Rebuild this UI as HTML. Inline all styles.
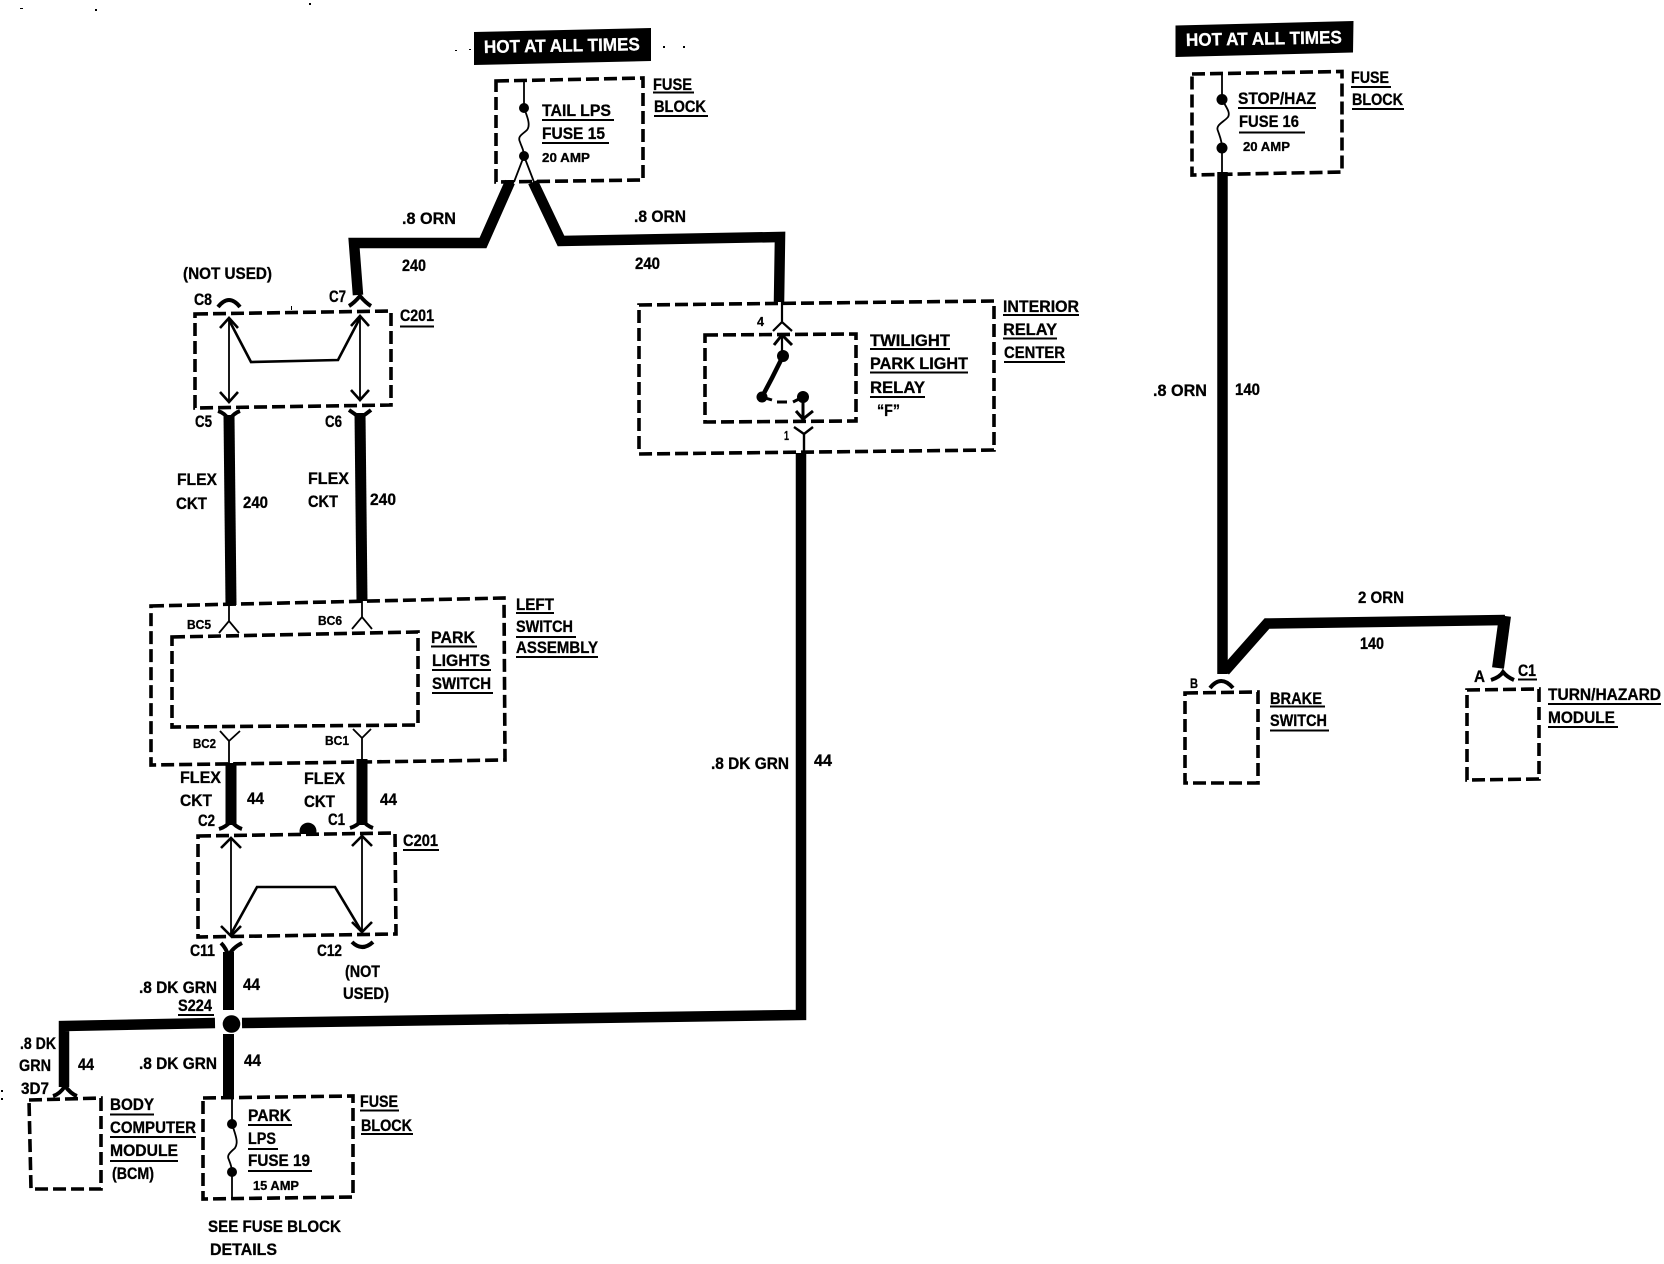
<!DOCTYPE html>
<html><head><meta charset="utf-8"><style>
html,body{margin:0;padding:0;background:#fff;width:1664px;height:1264px;overflow:hidden}
svg{display:block}
text{font-family:"Liberation Sans",sans-serif;font-weight:700;font-size:16.5px;fill:#000;stroke:#000;stroke-width:.3}
.s{font-size:13px}
.h{font-size:18px;fill:#fff;stroke:#fff}
.d{fill:none;stroke:#000;stroke-width:3.6;stroke-dasharray:13 5}
.w{fill:none;stroke:#000;stroke-width:10.5;stroke-linejoin:miter}
.t{fill:none;stroke:#000;stroke-width:1.8}
.m{fill:none;stroke:#000;stroke-width:2.6}
.a{fill:none;stroke:#000;stroke-width:4}
.u{fill:none;stroke:#000;stroke-width:2}
</style></head><body>
<svg xmlns="http://www.w3.org/2000/svg" width="1664" height="1264" viewBox="0 0 1664 1264">
<rect width="1664" height="1264" fill="#fff"/>
<!-- specks -->
<path d="M20 8h3v1h-3zM95 9h2v2h-2zM309 3h2v2h-2zM455 50h2v1h-2zM469 49h2v1h-2zM663 46h2v2h-2zM683 46h2v2h-2zM1 1090h2v2h-2zM1 1098h2v2h-2zM291 306h1v4h-1z" fill="#000"/>

<!-- HOT boxes -->
<polygon points="474,32 651,28 651,61 474,65" fill="#000"/>
<text class="h" x="484" y="53" textLength="156" lengthAdjust="spacingAndGlyphs" transform="rotate(-1 484 53)">HOT AT ALL TIMES</text>
<polygon points="1175.5,25.5 1353.5,21 1353,52.5 1175.5,57" fill="#000"/>
<text class="h" x="1186" y="46" textLength="156" lengthAdjust="spacingAndGlyphs" transform="rotate(-1 1186 46)">HOT AT ALL TIMES</text>

<!-- dashed boxes -->
<path class="d" d="M496,81 L643,78 L643,180 L496,182 Z"/>
<path class="d" d="M195,314 L391,311 L391,405 L195,408 Z"/>
<path class="d" d="M639,305 L994,301 L994,450 L639,454 Z"/>
<path class="d" d="M705,335 L856,334 L856,421 L705,422 Z"/>
<path class="d" d="M151,606 L504,598 L505,760 L151,765 Z"/>
<path class="d" d="M172,637 L418,632 L418,725 L172,727 Z"/>
<path class="d" d="M198,836 L395,833 L396,934 L198,937 Z"/>
<path class="d" d="M29,1100 L101,1098 L101,1189 L31,1189 Z"/>
<path class="d" d="M203,1098 L353,1096 L353,1197 L203,1199 Z"/>
<path class="d" d="M1192,74 L1342,71.5 L1342,172 L1192,175 Z"/>
<path class="d" d="M1185,693 L1258,692 L1258,783 L1185,783 Z"/>
<path class="d" d="M1467,690 L1539,689 L1539,779 L1467,780 Z"/>

<!-- thick wires -->
<path class="w" d="M510,182 L483,243 L354,243 L358,295"/>
<path class="w" d="M533,182 L561,241 L780,237 L779,302"/>
<path class="w" style="stroke-width:11" d="M229,415 L231,605"/>
<path class="w" style="stroke-width:11" d="M360,413 L362,601"/>
<path class="w" style="stroke-width:11" d="M231,763 L231,825"/>
<path class="w" style="stroke-width:11" d="M362,759 L362,825"/>
<path class="w" style="stroke-width:11" d="M228.5,952 L228.5,1010"/>
<path class="w" style="stroke-width:11" d="M228.5,1034 L228.5,1098"/>
<path class="w" d="M801,453 L801,1015 L242,1023"/>
<path class="w" d="M215,1023 L64,1026 L64,1087"/>
<circle cx="231.5" cy="1024" r="8.8" fill="#000"/>
<path class="w" d="M1222.5,172 L1222.5,674"/>
<path class="w" style="stroke-width:10.5" d="M1225,671 L1267,623.5 L1505,620"/>
<path class="w" style="stroke-width:12" d="M1505,616 L1498,668"/>

<!-- fuse internals -->
<path class="t" d="M524,80 V108 C527,116 531,125 527,130 C523,134 517,136 520,142 C522,148 524,150 524,156 L514,182 M524,156 L534,182"/>
<circle cx="524" cy="108" r="5"/><circle cx="524" cy="156" r="5"/>
<path class="t" d="M232,1098 V1124 C235,1134 239,1142 235,1148 C231,1152 226,1155 229,1160 C231,1165 232,1168 232,1172 V1198"/>
<circle cx="232" cy="1124" r="5"/><circle cx="232" cy="1172" r="5"/>
<path class="t" d="M1222,72 V99 C1225,106 1231,112 1228,117 C1224,122 1215,125 1218,131 C1220,137 1222,141 1222,148 V173"/>
<circle cx="1222" cy="99.5" r="5.5"/><circle cx="1222" cy="148" r="5.5"/>

<!-- C201 upper -->
<path class="t" d="M229,318 V402 M360,316 V400"/>
<path class="m" d="M220,328 L229,318 L238,328 M220,392 L229,402 L238,392 M351,326 L360,316 L369,326 M351,390 L360,400 L369,390"/>
<path class="m" d="M229,320 L251,362 L338,360 L360,318"/>
<path class="a" d="M218,307 Q229,293 240,307"/>
<path class="a" d="M349,306 Q354,303 360,296 Q366,303 371,306"/>
<path class="a" d="M218,411 Q225,413 229,420 Q234,413 240,411"/>
<path class="a" d="M349,410 Q355,414 360,418 Q366,414 371,410"/>

<!-- C201 lower -->
<path class="t" d="M231,838 V936 M362,836 V932"/>
<path class="m" d="M221,848 L231,838 L241,848 M352,846 L362,836 L372,846 M221,926 L231,936 L241,926 M352,922 L362,932 L372,922"/>
<path class="m" d="M231,934 L257,887 L335,887 L362,932"/>
<path class="a" d="M219,829 Q226,827 231,821 Q236,827 242,829"/>
<path class="a" d="M350,828 Q357,826 362,820 Q367,826 373,828"/>
<path class="a" d="M221,943 Q226,948 228.5,956 Q232,948 242,943"/>
<path class="a" d="M352,942 Q362,952 373,942"/>
<path d="M300,834 A8.5,8.5 0 1 1 316,834 Z" fill="#000"/>

<!-- left switch arrows -->
<path class="t" d="M229,605 V621 M219,633 L229,621 L239,633 M362,598 V617 M352,629 L362,617 L372,629"/>
<path class="t" d="M220,731 L229,741 L240,731 M229,741 V765 M353,729 L362,738 L371,729 M362,738 V760"/>

<!-- relay -->
<path class="t" style="stroke-width:2.2" d="M782,302 V322 M773,331 L782,322 L792,331"/>
<path class="m" style="stroke-width:3" d="M774,345 L782,335 L792,345"/>
<path class="t" style="stroke-width:2.2" d="M782,335 V356"/>
<path class="a" style="stroke-width:4.5" d="M783,356 L772,378 L762,397"/>
<circle cx="783" cy="356" r="6"/><circle cx="762" cy="397" r="5.5"/><circle cx="803" cy="397" r="6"/>
<path d="M762,397 L772,400 M777,402 H787 M793,402 L803,397" fill="none" stroke="#000" stroke-width="3"/>
<path class="m" style="stroke-width:3" d="M803,397 V418 M796,411 L803,419 L813,411"/>
<path class="t" style="stroke-width:2.4" d="M794,427 L804,434 L813,427 M804,434 V454"/>

<!-- arches at ends -->
<path class="a" d="M53,1096 Q60,1094 65,1086 Q71,1094 77,1096"/>
<path class="a" d="M1210,688 Q1221,674 1233,688"/>
<path class="a" d="M1491,680 Q1500,677 1503,672 Q1507,677 1514,680"/>

<!-- underlines -->
<path class="u" d="M542,120H614M542,143H609M653,92.5H694M654,116H708M400,326.5H434
M870,349H950M870,372.5H968M870,397H925M1003,315H1079M1003,338.5H1057M1004,362H1065
M516,613H554M516,637H576M516,657H598M431,646.5H477M432,670H491M432,693H493
M403,850H439M178,1015H214M110,1114.5H154M110,1137H196M110,1161H178
M248,1125H292M248,1149H278M248,1171H312M360,1110.5H399M361,1134H413
M1238,108H1316M1239,132.5H1305M1351,87H1391M1352,109H1404M1270,706.5H1325M1270,730.5H1329
M1518,679.5H1537M1548,704H1661M1548,727H1618"/>

<!-- labels -->
<text x="542" y="116" textLength="69" lengthAdjust="spacingAndGlyphs">TAIL LPS</text>
<text x="542" y="139" textLength="63" lengthAdjust="spacingAndGlyphs">FUSE 15</text>
<text class="s" x="542" y="162" textLength="48" lengthAdjust="spacingAndGlyphs">20 AMP</text>
<text x="653" y="90" textLength="39" lengthAdjust="spacingAndGlyphs">FUSE</text>
<text x="654" y="112" textLength="52" lengthAdjust="spacingAndGlyphs">BLOCK</text>
<text x="402" y="224" textLength="54" lengthAdjust="spacingAndGlyphs">.8 ORN</text>
<text x="402" y="271" textLength="24" lengthAdjust="spacingAndGlyphs">240</text>
<text x="634" y="222" textLength="52" lengthAdjust="spacingAndGlyphs">.8 ORN</text>
<text x="635" y="269" textLength="25" lengthAdjust="spacingAndGlyphs">240</text>
<text x="183" y="279" textLength="89" lengthAdjust="spacingAndGlyphs">(NOT USED)</text>
<text x="194" y="305" textLength="18" lengthAdjust="spacingAndGlyphs">C8</text>
<text x="329" y="302" textLength="17" lengthAdjust="spacingAndGlyphs">C7</text>
<text x="400" y="321" textLength="34" lengthAdjust="spacingAndGlyphs">C201</text>
<text x="195" y="427" textLength="17" lengthAdjust="spacingAndGlyphs">C5</text>
<text x="325" y="427" textLength="17" lengthAdjust="spacingAndGlyphs">C6</text>
<text x="177" y="485" textLength="40" lengthAdjust="spacingAndGlyphs">FLEX</text>
<text x="176" y="509" textLength="31" lengthAdjust="spacingAndGlyphs">CKT</text>
<text x="243" y="508" textLength="25" lengthAdjust="spacingAndGlyphs">240</text>
<text x="308" y="484" textLength="41" lengthAdjust="spacingAndGlyphs">FLEX</text>
<text x="308" y="507" textLength="30" lengthAdjust="spacingAndGlyphs">CKT</text>
<text x="370" y="505" textLength="26" lengthAdjust="spacingAndGlyphs">240</text>

<text class="s" x="757" y="326" textLength="7" lengthAdjust="spacingAndGlyphs">4</text>
<text class="s" x="784" y="440" textLength="5" lengthAdjust="spacingAndGlyphs">1</text>
<text x="870" y="346" textLength="80" lengthAdjust="spacingAndGlyphs">TWILIGHT</text>
<text x="870" y="369" textLength="98" lengthAdjust="spacingAndGlyphs">PARK LIGHT</text>
<text x="870" y="393" textLength="55" lengthAdjust="spacingAndGlyphs">RELAY</text>
<text x="877" y="416" textLength="23" lengthAdjust="spacingAndGlyphs">“F”</text>
<text x="1003" y="312" textLength="76" lengthAdjust="spacingAndGlyphs">INTERIOR</text>
<text x="1003" y="335" textLength="54" lengthAdjust="spacingAndGlyphs">RELAY</text>
<text x="1004" y="358" textLength="61" lengthAdjust="spacingAndGlyphs">CENTER</text>

<text x="516" y="610" textLength="38" lengthAdjust="spacingAndGlyphs">LEFT</text>
<text x="516" y="632" textLength="57" lengthAdjust="spacingAndGlyphs">SWITCH</text>
<text x="516" y="653" textLength="82" lengthAdjust="spacingAndGlyphs">ASSEMBLY</text>
<text x="431" y="643" textLength="44" lengthAdjust="spacingAndGlyphs">PARK</text>
<text x="432" y="666" textLength="58" lengthAdjust="spacingAndGlyphs">LIGHTS</text>
<text x="432" y="689" textLength="59" lengthAdjust="spacingAndGlyphs">SWITCH</text>
<text class="s" x="187" y="629" textLength="24" lengthAdjust="spacingAndGlyphs">BC5</text>
<text class="s" x="318" y="625" textLength="24" lengthAdjust="spacingAndGlyphs">BC6</text>
<text class="s" x="193" y="748" textLength="23" lengthAdjust="spacingAndGlyphs">BC2</text>
<text class="s" x="325" y="745" textLength="24" lengthAdjust="spacingAndGlyphs">BC1</text>

<text x="180" y="783" textLength="41" lengthAdjust="spacingAndGlyphs">FLEX</text>
<text x="180" y="806" textLength="32" lengthAdjust="spacingAndGlyphs">CKT</text>
<text x="247" y="804" textLength="17" lengthAdjust="spacingAndGlyphs">44</text>
<text x="304" y="784" textLength="41" lengthAdjust="spacingAndGlyphs">FLEX</text>
<text x="304" y="807" textLength="31" lengthAdjust="spacingAndGlyphs">CKT</text>
<text x="380" y="805" textLength="17" lengthAdjust="spacingAndGlyphs">44</text>
<text x="198" y="826" textLength="17" lengthAdjust="spacingAndGlyphs">C2</text>
<text x="328" y="825" textLength="17" lengthAdjust="spacingAndGlyphs">C1</text>
<text x="403" y="846" textLength="35" lengthAdjust="spacingAndGlyphs">C201</text>
<text x="190" y="956" textLength="25" lengthAdjust="spacingAndGlyphs">C11</text>
<text x="317" y="956" textLength="25" lengthAdjust="spacingAndGlyphs">C12</text>
<text x="345" y="977" textLength="35" lengthAdjust="spacingAndGlyphs">(NOT</text>
<text x="343" y="999" textLength="46" lengthAdjust="spacingAndGlyphs">USED)</text>
<text x="139" y="993" textLength="78" lengthAdjust="spacingAndGlyphs">.8 DK GRN</text>
<text x="243" y="990" textLength="17" lengthAdjust="spacingAndGlyphs">44</text>
<text x="178" y="1011" textLength="34" lengthAdjust="spacingAndGlyphs">S224</text>
<text x="711" y="769" textLength="78" lengthAdjust="spacingAndGlyphs">.8 DK GRN</text>
<text x="814" y="766" textLength="18" lengthAdjust="spacingAndGlyphs">44</text>
<text x="20" y="1049" textLength="36" lengthAdjust="spacingAndGlyphs">.8 DK</text>
<text x="19" y="1071" textLength="32" lengthAdjust="spacingAndGlyphs">GRN</text>
<text x="78" y="1070" textLength="16" lengthAdjust="spacingAndGlyphs">44</text>
<text x="21" y="1094" textLength="28" lengthAdjust="spacingAndGlyphs">3D7</text>
<text x="139" y="1069" textLength="78" lengthAdjust="spacingAndGlyphs">.8 DK GRN</text>
<text x="244" y="1066" textLength="17" lengthAdjust="spacingAndGlyphs">44</text>
<text x="110" y="1110" textLength="44" lengthAdjust="spacingAndGlyphs">BODY</text>
<text x="110" y="1133" textLength="86" lengthAdjust="spacingAndGlyphs">COMPUTER</text>
<text x="110" y="1156" textLength="68" lengthAdjust="spacingAndGlyphs">MODULE</text>
<text x="112" y="1179" textLength="42" lengthAdjust="spacingAndGlyphs">(BCM)</text>
<text x="248" y="1121" textLength="43" lengthAdjust="spacingAndGlyphs">PARK</text>
<text x="248" y="1144" textLength="28" lengthAdjust="spacingAndGlyphs">LPS</text>
<text x="248" y="1166" textLength="62" lengthAdjust="spacingAndGlyphs">FUSE 19</text>
<text class="s" x="253" y="1190" textLength="46" lengthAdjust="spacingAndGlyphs">15 AMP</text>
<text x="360" y="1107" textLength="38" lengthAdjust="spacingAndGlyphs">FUSE</text>
<text x="361" y="1131" textLength="51" lengthAdjust="spacingAndGlyphs">BLOCK</text>
<text x="208" y="1232" textLength="133" lengthAdjust="spacingAndGlyphs">SEE FUSE BLOCK</text>
<text x="210" y="1255" textLength="67" lengthAdjust="spacingAndGlyphs">DETAILS</text>

<text x="1238" y="104" textLength="78" lengthAdjust="spacingAndGlyphs">STOP/HAZ</text>
<text x="1239" y="127" textLength="60" lengthAdjust="spacingAndGlyphs">FUSE 16</text>
<text class="s" x="1243" y="151" textLength="47" lengthAdjust="spacingAndGlyphs">20 AMP</text>
<text x="1351" y="83" textLength="38" lengthAdjust="spacingAndGlyphs">FUSE</text>
<text x="1352" y="105" textLength="51" lengthAdjust="spacingAndGlyphs">BLOCK</text>
<text x="1153" y="396" textLength="54" lengthAdjust="spacingAndGlyphs">.8 ORN</text>
<text x="1235" y="395" textLength="25" lengthAdjust="spacingAndGlyphs">140</text>
<text x="1358" y="603" textLength="46" lengthAdjust="spacingAndGlyphs">2 ORN</text>
<text x="1360" y="649" textLength="24" lengthAdjust="spacingAndGlyphs">140</text>
<text x="1190" y="688" style="font-size:14px" textLength="8" lengthAdjust="spacingAndGlyphs">B</text>
<text x="1270" y="704" textLength="52" lengthAdjust="spacingAndGlyphs">BRAKE</text>
<text x="1270" y="726" textLength="57" lengthAdjust="spacingAndGlyphs">SWITCH</text>
<text x="1474" y="682" textLength="11" lengthAdjust="spacingAndGlyphs">A</text>
<text x="1518" y="676" textLength="18" lengthAdjust="spacingAndGlyphs">C1</text>
<text x="1548" y="700" textLength="113" lengthAdjust="spacingAndGlyphs">TURN/HAZARD</text>
<text x="1548" y="723" textLength="67" lengthAdjust="spacingAndGlyphs">MODULE</text>
</svg>
</body></html>
